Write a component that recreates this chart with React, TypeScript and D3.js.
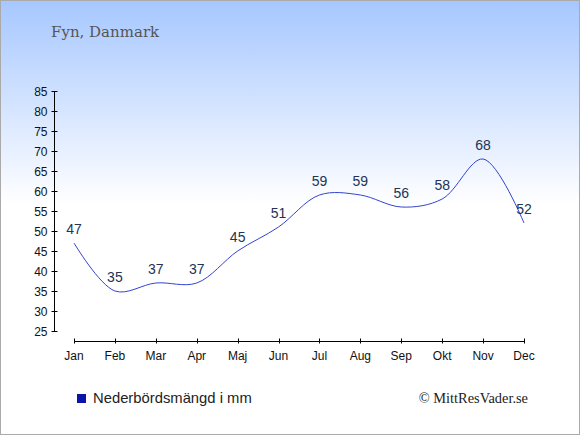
import { useRef, useEffect } from 'react';
import * as d3 from 'd3';

const months = ['Jan', 'Feb', 'Mar', 'Apr', 'Maj', 'Jun', 'Jul', 'Aug', 'Sep', 'Okt', 'Nov', 'Dec'];
const rainfall = [47, 35, 37, 37, 45, 51, 59, 59, 56, 58, 68, 52];
const yTicks = [25, 30, 35, 40, 45, 50, 55, 60, 65, 70, 75, 80, 85];

const W = 580;
const H = 435;

export default function App() {
  const svgRef = useRef<SVGSVGElement>(null);

  useEffect(() => {
    if (!svgRef.current) return;
    const svg = d3.select(svgRef.current);
    svg.selectAll('*').remove();

    const grad = svg.append('defs').append('linearGradient')
      .attr('id', 'bg').attr('x1', 0).attr('y1', 0).attr('x2', 0).attr('y2', 1);
    grad.append('stop').attr('offset', '0%').attr('stop-color', '#a6c7ff');
    grad.append('stop').attr('offset', '47%').attr('stop-color', '#ffffff');
    grad.append('stop').attr('offset', '100%').attr('stop-color', '#ffffff');

    svg.append('rect').attr('x', 0.5).attr('y', 0.5).attr('width', W - 1).attr('height', H - 1)
      .attr('fill', 'url(#bg)').attr('stroke', '#aaaaaa');

    svg.append('text').attr('x', 51).attr('y', 37)
      .attr('font-family', '"DejaVu Serif", serif').attr('font-size', 15).attr('fill', '#555')
      .text('Fyn, Danmark');

    const x = d3.scalePoint<string>().domain(months).range([74, 524]);
    const y = d3.scaleLinear().domain([25, 85]).range([331, 91]);

    // y axis
    const yAxis = svg.append('g').attr('transform', 'translate(54.5,0)');
    yAxis.append('line').attr('y1', y(85)).attr('y2', y(25)).attr('stroke', '#000');
    yTicks.forEach(t => {
      yAxis.append('line').attr('x1', -3).attr('x2', 3)
        .attr('y1', Math.round(y(t)) + 0.5).attr('y2', Math.round(y(t)) + 0.5).attr('stroke', '#000');
      yAxis.append('text').attr('x', -7).attr('y', y(t) + 4.5)
        .attr('text-anchor', 'end').attr('font-family', '"Liberation Sans", Arial, sans-serif')
        .attr('font-size', 12).attr('fill', '#111').text(t);
    });

    // x axis
    const xAxis = svg.append('g').attr('transform', 'translate(0,341.5)');
    xAxis.append('line').attr('x1', x('Jan')!).attr('x2', x('Dec')!).attr('stroke', '#000');
    months.forEach(m => {
      xAxis.append('line').attr('x1', Math.round(x(m)!) + 0.5).attr('x2', Math.round(x(m)!) + 0.5)
        .attr('y1', -3).attr('y2', 2).attr('stroke', '#000');
      xAxis.append('text').attr('x', x(m)!).attr('y', 18)
        .attr('text-anchor', 'middle').attr('font-family', '"Liberation Sans", Arial, sans-serif')
        .attr('font-size', 12).attr('fill', '#111').text(m);
    });

    const line = d3.line<number>()
      .x((_, i) => x(months[i])!)
      .y(d => y(d))
      .curve(d3.curveCatmullRom.alpha(0.5));

    svg.append('path').datum(rainfall)
      .attr('fill', 'none').attr('stroke', '#3344cc').attr('stroke-width', 1)
      .attr('d', line);

    svg.append('g').selectAll('text').data(rainfall).join('text')
      .attr('x', (_, i) => x(months[i])!)
      .attr('y', d => y(d) - 9)
      .attr('text-anchor', 'middle')
      .attr('font-family', '"Liberation Sans", Arial, sans-serif')
      .attr('font-size', 14).attr('fill', '#223355')
      .text(d => d);

    // legend
    svg.append('rect').attr('x', 77).attr('y', 394).attr('width', 9).attr('height', 9).attr('fill', '#0a14aa');
    svg.append('text').attr('x', 93).attr('y', 403)
      .attr('font-family', '"Liberation Sans", Arial, sans-serif').attr('font-size', 14.8).attr('fill', '#222')
      .text('Nederbördsmängd i mm');
    svg.append('text').attr('x', 528).attr('y', 403).attr('text-anchor', 'end')
      .attr('font-family', '"Liberation Serif", serif').attr('font-size', 14.4).attr('fill', '#222')
      .text('© MittResVader.se');
  }, []);

  return (
    <svg
      ref={svgRef}
      width={W}
      height={H}
      style={{ position: 'absolute', left: 0, top: 0 }}
    />
  );
}
